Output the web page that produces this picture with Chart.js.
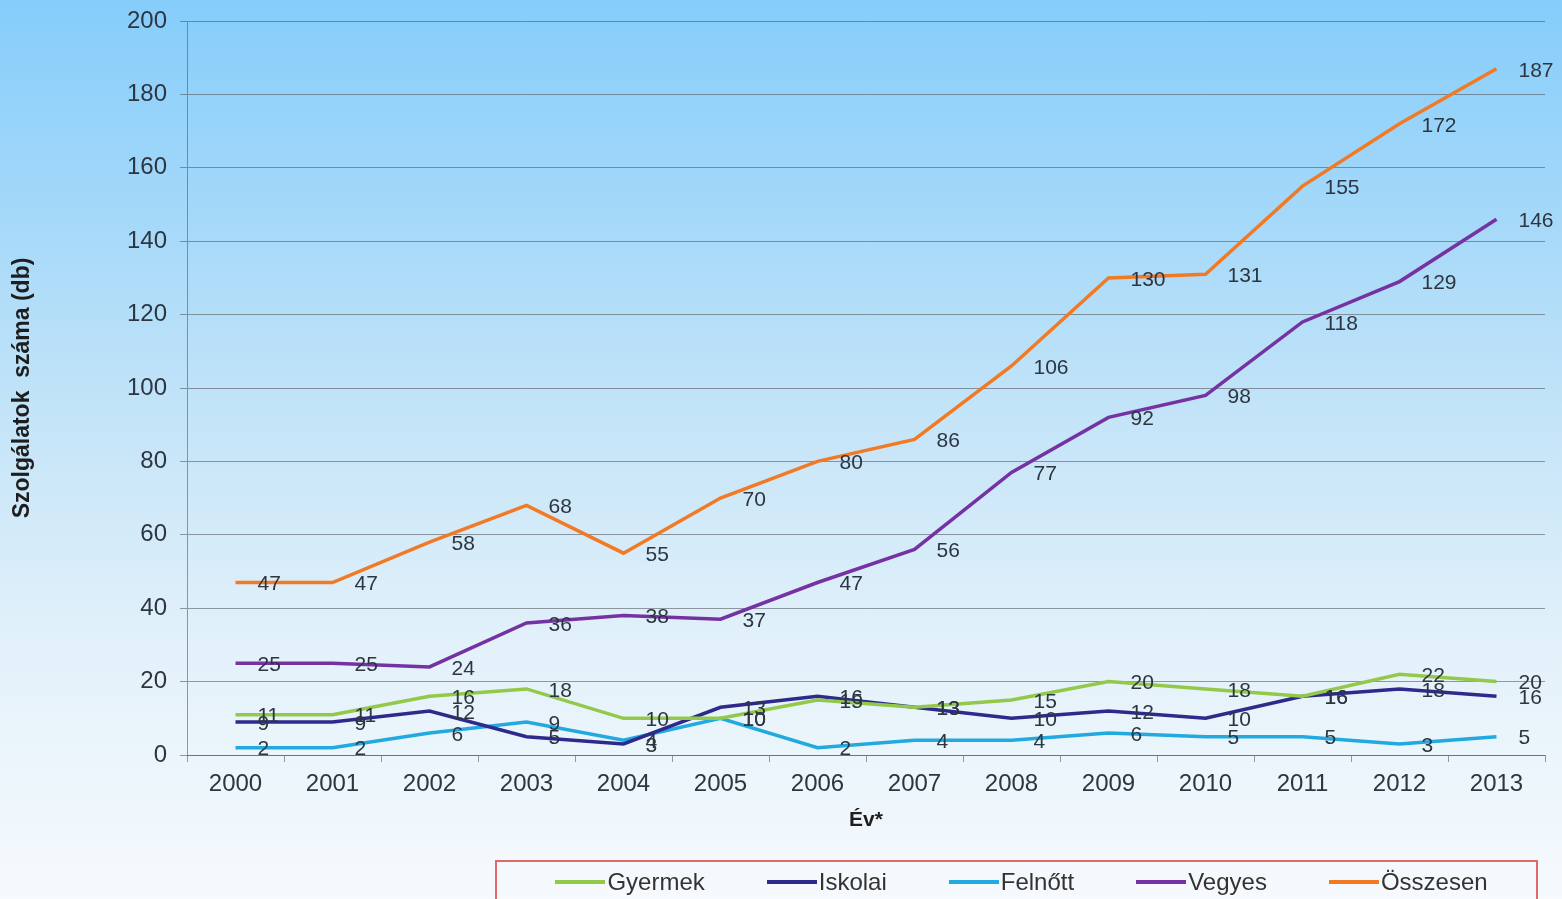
<!DOCTYPE html>
<html>
<head>
<meta charset="utf-8">
<script src="https://cdn.jsdelivr.net/npm/chart.js@4"></script>
<style>
  html, body { margin: 0; padding: 0; overflow: hidden; }
  body {
    width: 1562px; height: 899px;
    background: linear-gradient(to bottom, #86cdfb 0%, #a6d9f9 25%, #c6e5f8 48%, #e3f1fa 72%, #f6fafd 100%);
    font-family: "Liberation Sans", Arial, sans-serif;
  }
  #wrap { position: absolute; left: 0; top: 0; width: 1562px; height: 899px; }
  #legend {
    position: absolute; left: 495px; top: 860px; width: 1043px; height: 60px;
    border: 2px solid #e06a6a; box-sizing: border-box;
    display: flex; justify-content: center; align-items: flex-start; gap: 62px;
    padding-top: 6px; padding-left: 10px;
  }
  .item { display: flex; align-items: center; font-size: 24px; color: #333; }
  .item span.line { display: inline-block; width: 50px; height: 4px; margin-right: 2px; }
</style>
</head>
<body>
<div id="wrap"><canvas id="chart"></canvas></div>
<div id="legend"></div>
<script>
const years = ["2000", "2001", "2002", "2003", "2004", "2005", "2006", "2007", "2008", "2009", "2010", "2011", "2012", "2013"];
const gyermek = [11, 11, 16, 18, 10, 10, 15, 13, 15, 20, 18, 16, 22, 20];
const iskolai = [9, 9, 12, 5, 3, 13, 16, 13, 10, 12, 10, 16, 18, 16];
const felnott = [2, 2, 6, 9, 4, 10, 2, 4, 4, 6, 5, 5, 3, 5];
const vegyes = [25, 25, 24, 36, 38, 37, 47, 56, 77, 92, 98, 118, 129, 146];
const osszesen = [47, 47, 58, 68, 55, 70, 80, 86, 106, 130, 131, 155, 172, 187];
const yTicks = [0, 20, 40, 60, 80, 100, 120, 140, 160, 180, 200];

const seriesNames = ["Gyermek", "Iskolai", "Felnőtt", "Vegyes", "Összesen"];
const seriesData = [gyermek, iskolai, felnott, vegyes, osszesen];
const seriesColors = ["#93c94b", "#2e2a8c", "#22a9e0", "#7532a2", "#f27a24"];

const FONT = "'Liberation Sans', Arial, sans-serif";
const TEXT = "#2d3640";
const GRID = "rgba(85,90,95,0.6)";

// value labels to the right of each point
const pointLabels = {
  id: "pointLabels",
  afterDatasetsDraw(chart) {
    const ctx = chart.ctx;
    ctx.save();
    ctx.font = "21px " + FONT;
    ctx.fillStyle = TEXT;
    ctx.textAlign = "left";
    ctx.textBaseline = "middle";
    chart.data.datasets.forEach((ds, i) => {
      chart.getDatasetMeta(i).data.forEach((pt, j) => {
        ctx.fillText(String(ds.data[j]), pt.x + 22, pt.y + 2);
      });
    });
    ctx.restore();
  }
};

new Chart(document.getElementById("chart"), {
  type: "line",
  data: {
    labels: years,
    datasets: seriesNames.map((name, i) => ({
      label: name,
      data: seriesData[i],
      borderColor: seriesColors[i],
      backgroundColor: seriesColors[i],
      borderWidth: 3.5,
      pointRadius: 0,
      tension: 0,
      fill: false
    }))
  },
  options: {
    responsive: true,
    maintainAspectRatio: false,
    animation: false,
    layout: { padding: { top: 21, right: 17, bottom: 64, left: 0 } },
    plugins: {
      legend: { display: false },
      tooltip: { enabled: false }
    },
    scales: {
      x: {
        offset: true,
        grid: {
          offset: true,
          drawOnChartArea: false,
          drawTicks: true,
          tickLength: 7,
          color: GRID
        },
        border: { display: true, color: GRID, width: 1 },
        ticks: { color: TEXT, font: { family: FONT, size: 24 }, padding: 8, maxRotation: 0 },
        title: {
          display: true,
          text: "Év*",
          color: "#1e1e1e",
          font: { family: FONT, size: 21, weight: "bold" },
          padding: { top: 4, bottom: 2 }
        },
        afterFit(scale) { scale.height = 80; }
      },
      y: {
        min: 0,
        max: 200,
        afterBuildTicks(scale) { scale.ticks = yTicks.map(v => ({ value: v })); },
        grid: { color: GRID, lineWidth: 1, tickLength: 7 },
        border: { display: true, color: GRID, width: 1 },
        ticks: { color: TEXT, font: { family: FONT, size: 24 }, padding: 13 },
        title: {
          display: true,
          text: "Szolgálatok  száma (db)",
          color: "#1e1e1e",
          font: { family: FONT, size: 23, weight: "bold" },
          padding: { top: 9, bottom: 4 }
        },
        afterFit(scale) {
          scale.width = 187;
          scale.paddingTop = 0;
          scale.paddingBottom = 0;
        }
      }
    }
  },
  plugins: [pointLabels]
});

// legend built from the same series
const legend = document.getElementById("legend");
seriesNames.forEach((name, i) => {
  const item = document.createElement("div");
  item.className = "item";
  const line = document.createElement("span");
  line.className = "line";
  line.style.background = seriesColors[i];
  item.appendChild(line);
  item.appendChild(document.createTextNode(name));
  legend.appendChild(item);
});
</script>
</body>
</html>
